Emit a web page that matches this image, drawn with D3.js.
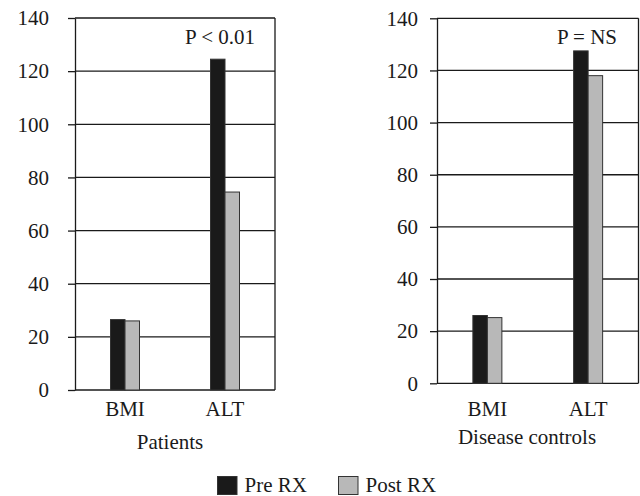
<!DOCTYPE html>
<html>
<head>
<meta charset="utf-8">
<script src="https://cdn.jsdelivr.net/npm/d3@7"></script>
<style>
  html, body { margin: 0; padding: 0; background: #fff; }
  svg { display: block; }
</style>
</head>
<body>
<svg id="chart" width="640" height="496"></svg>
<script>
const categories = ["BMI", "ALT"];
const seriesNames = ["Pre RX", "Post RX"];
const yTicks = [0, 20, 40, 60, 80, 100, 120, 140];
const patientsPre = [26.5, 124.5];
const patientsPost = [26, 74.5];
const controlsPre = [26, 127.5];
const controlsPost = [25.2, 118];
const panelTitles = ["Patients", "Disease controls"];
const pValues = ["P < 0.01", "P = NS"];

const FONT = "'Liberation Serif', 'Times New Roman', Times, 'DejaVu Serif', serif";
const colors = { "Pre RX": "#1a1a1a", "Post RX": "#b8b8b8" };
const svg = d3.select("#chart").style("font-family", FONT);

function txt(sel) {
  return sel.style("font-family", FONT).style("font-size", "21px").attr("fill", "#1a1a1a");
}

const panels = [
  { x0: 75, x1: 275, yTop: 18, yBot: 390, pad: 19, pre: patientsPre, post: patientsPost,
    title: panelTitles[0], titleX: 170, titleY: 449, p: pValues[0], pX: 220, catY: 416 },
  { x0: 437, x1: 638.5, yTop: 18.3, yBot: 383.3, pad: 12, pre: controlsPre, post: controlsPost,
    title: panelTitles[1], titleX: 527, titleY: 444, p: pValues[1], pX: 587, catY: 416 }
];

panels.forEach(pn => {
  const g = svg.append("g");
  const x = d3.scaleBand().domain(categories).range([pn.x0, pn.x1]);
  const y = d3.scaleLinear().domain([0, 140]).range([pn.yBot, pn.yTop]);
  const xs = d3.scaleBand().domain(seriesNames).range([-14.5, 14.5]);

  g.selectAll("line.grid").data(yTicks).join("line")
    .attr("x1", pn.x0).attr("x2", pn.x1)
    .attr("y1", d => y(d)).attr("y2", d => y(d))
    .attr("stroke", "#1a1a1a").attr("stroke-width", 1.3);
  g.append("line").attr("x1", pn.x1).attr("x2", pn.x1)
    .attr("y1", y(140)).attr("y2", y(0))
    .attr("stroke", "#1a1a1a").attr("stroke-width", 1.3);

  const data = [];
  categories.forEach((c, i) => {
    data.push({ cat: c, s: "Pre RX", v: pn.pre[i] });
    data.push({ cat: c, s: "Post RX", v: pn.post[i] });
  });
  g.selectAll("rect.bar").data(data).join("rect")
    .attr("x", d => x(d.cat) + x.bandwidth() / 2 + xs(d.s))
    .attr("width", xs.bandwidth())
    .attr("y", d => y(d.v))
    .attr("height", d => y(0) - y(d.v))
    .attr("fill", d => colors[d.s])
    .attr("stroke", "#333").attr("stroke-width", 1);

  const ax = g.append("g").attr("transform", `translate(${pn.x0},0)`)
    .call(d3.axisLeft(y).tickValues(yTicks).tickSize(7).tickPadding(pn.pad).tickSizeOuter(0));
  ax.attr("font-family", null).attr("font-size", null);
  ax.selectAll("path.domain").attr("stroke", "#1a1a1a").attr("stroke-width", 1.3);
  ax.selectAll(".tick line").attr("stroke", "#1a1a1a").attr("stroke-width", 1.3);
  txt(ax.selectAll(".tick text"));

  txt(g.selectAll("text.cat").data(categories).join("text")
    .attr("x", d => x(d) + x.bandwidth() / 2).attr("y", pn.catY)
    .attr("text-anchor", "middle").text(d => d));

  txt(g.append("text").attr("x", pn.titleX).attr("y", pn.titleY)
    .attr("text-anchor", "middle").text(pn.title));

  txt(g.append("text").attr("x", pn.pX).attr("y", 44)
    .attr("text-anchor", "middle").text(pn.p));
});

const legend = [
  { s: "Pre RX", x: 217.5 },
  { s: "Post RX", x: 338.5 }
];
const lg = svg.selectAll("g.leg").data(legend).join("g");
lg.append("rect").attr("x", d => d.x).attr("y", 476.5).attr("width", 19.5).attr("height", 18)
  .attr("fill", d => colors[d.s]).attr("stroke", "#333").attr("stroke-width", 1);
txt(lg.append("text").attr("x", d => d.x + 27).attr("y", 492).text(d => d.s));
</script>
</body>
</html>
